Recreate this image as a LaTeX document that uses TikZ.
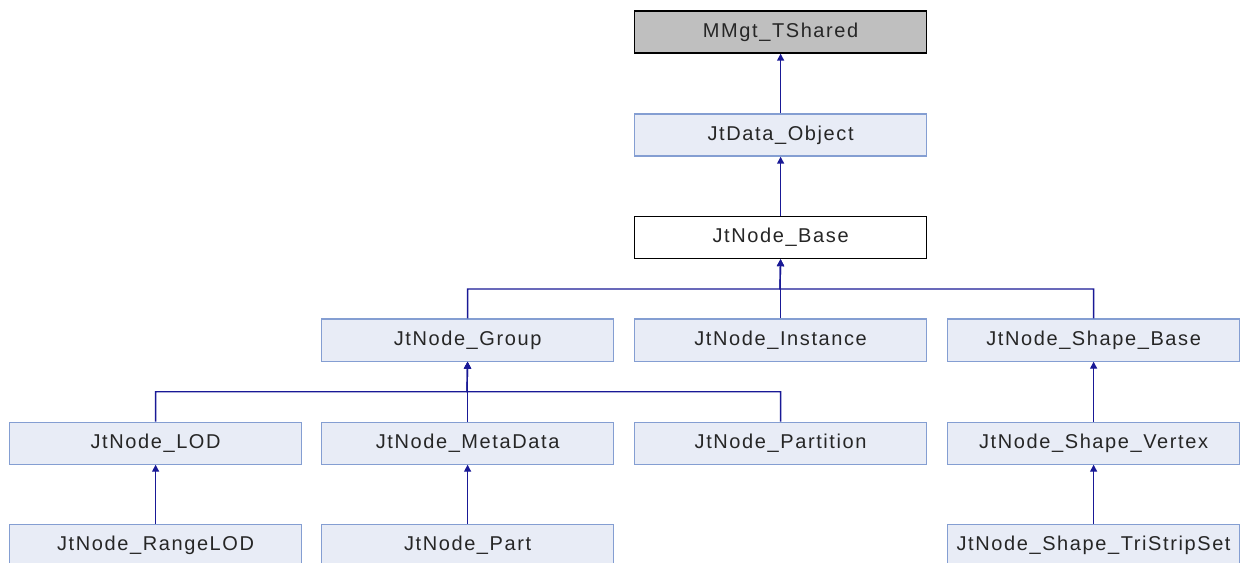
\documentclass[tikz,border=0pt]{standalone}
\usepackage{fontspec}
\setmainfont{Liberation Sans}[LetterSpace=8]
\usetikzlibrary{arrows.meta}
\definecolor{boxfill}{RGB}{232,236,246}
\definecolor{boxline}{RGB}{132,158,210}
\definecolor{grayfill}{RGB}{191,191,191}
\definecolor{edgecol}{RGB}{25,25,150}
\tikzset{
  cls/.style={draw=boxline, fill=boxfill, line width=1.2bp, minimum width=292bp, minimum height=42bp, inner sep=0pt, anchor=north west, font=\fontsize{20bp}{22bp}\selectfont, text=black!85},
  rootcls/.style={cls, draw=black, fill=grayfill},
  curcls/.style={cls, draw=black, fill=white},
  edge/.style={draw=edgecol, line width=1.4bp, -{Triangle[length=7bp,width=7bp]}},
}
\begin{document}
\begin{tikzpicture}[x=1bp,y=-1bp]
\useasboundingbox[fill=white] (0,0) rectangle (1241,563);
\begin{scope}
\clip (0,0) rectangle (1241,563);
\node[rootcls] (mmgt) at (634,10.5) {MMgt\_TShared};
\node[cls] (data) at (634,113.5) {JtData\_Object};
\node[curcls] (base) at (634,216) {JtNode\_Base};
\node[cls] (group) at (321,318.5) {JtNode\_Group};
\node[cls] (inst) at (634,318.5) {JtNode\_Instance};
\node[cls] (shbase) at (947,318.5) {JtNode\_Shape\_Base};
\node[cls] (lod) at (9,421.5) {JtNode\_LOD};
\node[cls] (meta) at (321,421.5) {JtNode\_MetaData};
\node[cls] (part) at (634,421.5) {JtNode\_Partition};
\node[cls] (vert) at (947,421.5) {JtNode\_Shape\_Vertex};
\node[cls] (range) at (9,523.5) {JtNode\_RangeLOD};
\node[cls] (jpart) at (321,523.5) {JtNode\_Part};
\node[cls] (tri) at (947,523.5) {JtNode\_Shape\_TriStripSet};
\coordinate (busA) at (780,289);
\coordinate (busB) at (467,391.7);
\draw[edge] (data.north) -- (mmgt.south);
\draw[edge] (base.north) -- (data.south);
\draw[edge] (inst.north) -- (base.south);
\draw[edge] (group.north) |- (busA) -- (base.south);
\draw[edge] (shbase.north) |- (busA) -- (base.south);
\draw[edge] (meta.north) -- (group.south);
\draw[edge] (lod.north) |- (busB) -- (group.south);
\draw[edge] (part.north) |- (busB) -- (group.south);
\draw[edge] (vert.north) -- (shbase.south);
\draw[edge] (range.north) -- (lod.south);
\draw[edge] (jpart.north) -- (meta.south);
\draw[edge] (tri.north) -- (vert.south);
\end{scope}
\end{tikzpicture}
\end{document}
